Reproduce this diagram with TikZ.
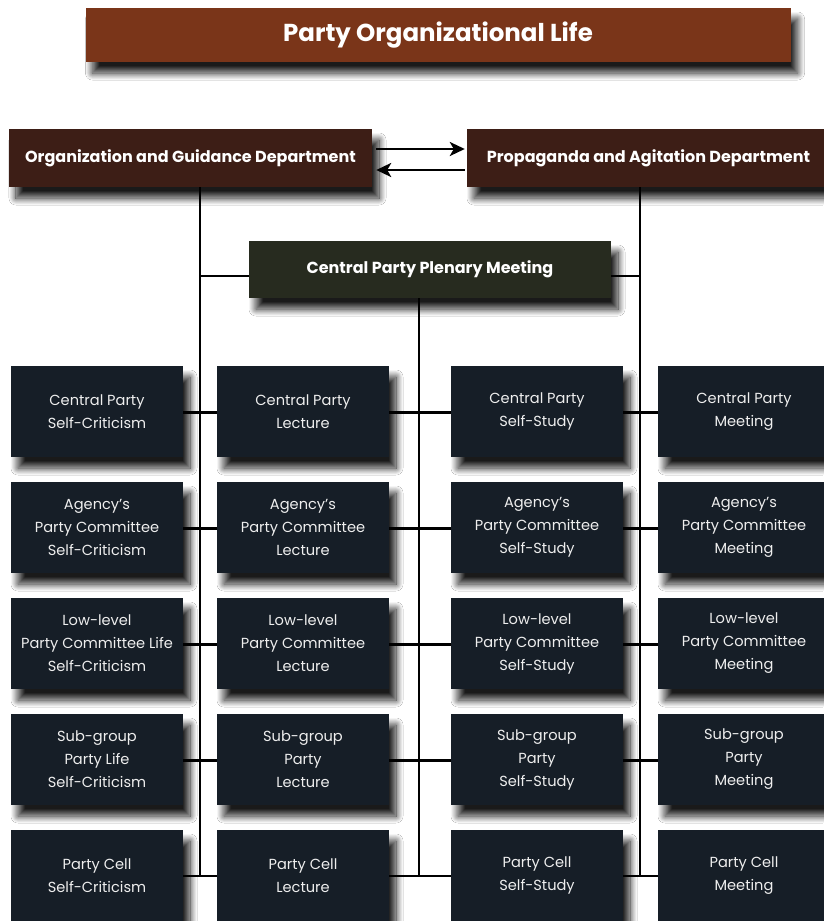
\documentclass[tikz,border=0pt]{standalone}
\usepackage{fontspec}
\setmainfont{Poppins}
\usetikzlibrary{shadows.blur,arrows.meta}
\definecolor{titlec}{HTML}{7A3519}
\definecolor{deptc}{HTML}{3D1E16}
\definecolor{centc}{HTML}{272B1F}
\definecolor{gridc}{HTML}{161E27}
\definecolor{txtc}{HTML}{EEEEEE}
\begin{document}
\begin{tikzpicture}[x=1pt,y=-1pt,
  shad/.style={blur shadow={shadow xshift=7pt,shadow yshift=-11pt,shadow blur radius=7pt,shadow blur steps=30,shadow opacity=90}},
  titlebox/.style={shad,fill=titlec,text=white,minimum width=705pt,minimum height=54pt,inner sep=0pt,font=\fontsize{24.5}{28}\selectfont\bfseries},
  deptbox/.style={shad,fill=deptc,text=white,minimum width=363pt,minimum height=58pt,inner sep=0pt,font=\fontsize{16}{18}\selectfont\bfseries},
  centbox/.style={shad,fill=centc,text=white,minimum width=362pt,minimum height=57pt,inner sep=0pt,font=\fontsize{16}{18}\selectfont\bfseries},
  cellbox/.style={shad,fill=gridc,text=txtc,minimum width=172pt,minimum height=91pt,inner sep=0pt,align=center,font=\fontsize{14.6}{23}\selectfont},
  conn/.style={line width=2.8pt,black},
  arr/.style={line width=2.6pt,black,-{Stealth[length=15pt,width=14pt,inset=4pt]}}
]
\useasboundingbox[fill=white] (0,0) rectangle (823,921);
% title
\node[titlebox] (title) at (438,35) {Party Organizational Life};
% departments
\node[deptbox] (ogd) at (190.5,158) {Organization and Guidance Department};
\node[deptbox] (pad) at (648.5,158) {Propaganda and Agitation Department};
\node[centbox] (cpm) at (430,269.5) {Central Party Plenary Meeting};
% grid
\foreach \r/\y in {1/411.5,2/527.5,3/643.5,4/759.5,5/875.5}{
  \foreach \c/\x in {1/97,2/303,3/537,4/744}{
    \coordinate (p\r\c) at (\x,\y);
  }
}
\node[cellbox] (c11) at (p11) {Central Party\\Self-Criticism};
\node[cellbox] (c12) at (p12) {Central Party\\Lecture};
\node[cellbox] (c13) at (p13) {Central Party\\Self-Study};
\node[cellbox] (c14) at (p14) {Central Party\\Meeting};
\node[cellbox] (c21) at (p21) {Agency’s\\Party Committee\\Self-Criticism};
\node[cellbox] (c22) at (p22) {Agency’s\\Party Committee\\Lecture};
\node[cellbox] (c23) at (p23) {Agency’s\\Party Committee\\Self-Study};
\node[cellbox] (c24) at (p24) {Agency’s\\Party Committee\\Meeting};
\node[cellbox] (c31) at (p31) {Low-level\\Party Committee Life\\Self-Criticism};
\node[cellbox] (c32) at (p32) {Low-level\\Party Committee\\Lecture};
\node[cellbox] (c33) at (p33) {Low-level\\Party Committee\\Self-Study};
\node[cellbox] (c34) at (p34) {Low-level\\Party Committee\\Meeting};
\node[cellbox] (c41) at (p41) {Sub-group\\Party Life\\Self-Criticism};
\node[cellbox] (c42) at (p42) {Sub-group\\Party\\Lecture};
\node[cellbox] (c43) at (p43) {Sub-group\\Party\\Self-Study};
\node[cellbox] (c44) at (p44) {Sub-group\\Party\\Meeting};
\node[cellbox] (c51) at (p51) {Party Cell\\Self-Criticism};
\node[cellbox] (c52) at (p52) {Party Cell\\Lecture};
\node[cellbox] (c53) at (p53) {Party Cell\\Self-Study};
\node[cellbox] (c54) at (p54) {Party Cell\\Meeting};
% connector anchor points
\coordinate (vl) at (200,187);
\coordinate (vr) at (640,187);
\coordinate (vm) at (419,298);
\coordinate (hc) at (0,276);
\coordinate (hb) at (0,876);
\draw[conn] (vl) -- (vl |- hb);
\draw[conn] (vr) -- (vr |- hb);
\draw[conn] (vm) -- (vm |- hb);
\draw[conn] (vl |- hc) -- (cpm.west |- hc);
\draw[conn] (cpm.east |- hc) -- (vr |- hc);
\foreach \r in {1,...,4}{
  \draw[conn] ([yshift=-1pt]c\r1.east) -- ([yshift=-1pt]c\r2.west);
  \draw[conn] ([yshift=-1pt]c\r2.east) -- ([yshift=-1pt]c\r3.west);
  \draw[conn] ([yshift=-1pt]c\r3.east) -- ([yshift=-1pt]c\r4.west);
}
\draw[conn] (c51.east |- hb) -- (c52.west |- hb);
\draw[conn] (c52.east |- hb) -- (c53.west |- hb);
\draw[conn] (c53.east |- hb) -- (c54.west |- hb);
\coordinate (a1) at (0,149);
\coordinate (a2) at (0,170);
\draw[arr] ([xshift=4pt]ogd.east |- a1) -- ([xshift=-2pt]pad.west |- a1);
\draw[arr] ([xshift=-2pt]pad.west |- a2) -- ([xshift=4pt]ogd.east |- a2);
\end{tikzpicture}
\end{document}
